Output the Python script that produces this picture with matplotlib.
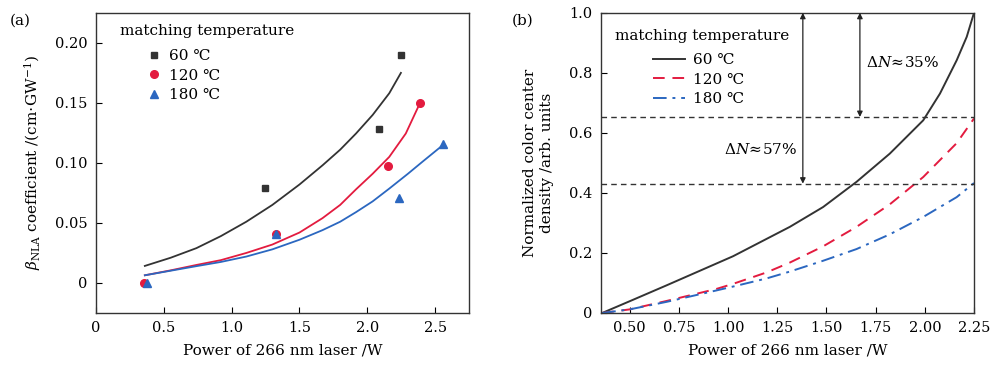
import matplotlib
matplotlib.use("Agg")
import matplotlib.pyplot as plt

plt.rcParams['font.family'] = ['DejaVu Serif']
plt.rcParams['mathtext.fontset'] = 'dejavuserif'

# ---------------- data (a) ----------------
temps = ["60 ℃", "120 ℃", "180 ℃"]
a_x60 = [1.243, 2.083, 2.248]
a_y60 = [0.079, 0.128, 0.190]
a_x120 = [0.353, 1.328, 2.154, 2.387]
a_y120 = [0.0, 0.0406, 0.0976, 0.1495]
a_x180 = [0.377, 1.33, 2.235, 2.559]
a_y180 = [0.0, 0.041, 0.071, 0.1155]

fit60_x = [0.36, 0.55, 0.74, 0.92, 1.108, 1.30, 1.50, 1.67, 1.80, 1.917, 2.04, 2.162, 2.248]
fit60_y = [0.0142, 0.021, 0.029, 0.039, 0.051, 0.065, 0.082, 0.098, 0.111, 0.1245, 0.140, 0.158, 0.175]
fit120_x = [0.36, 0.55, 0.74, 0.92, 1.108, 1.30, 1.50, 1.67, 1.80, 1.917, 2.04, 2.162, 2.284, 2.387]
fit120_y = [0.0064, 0.0105, 0.015, 0.019, 0.025, 0.032, 0.042, 0.054, 0.065, 0.078, 0.091, 0.105, 0.1245, 0.1495]
fit180_x = [0.36, 0.55, 0.74, 0.92, 1.108, 1.30, 1.50, 1.67, 1.80, 1.917, 2.04, 2.162, 2.30, 2.407, 2.559]
fit180_y = [0.0064, 0.0102, 0.014, 0.0175, 0.022, 0.028, 0.036, 0.044, 0.051, 0.059, 0.068, 0.0786, 0.091, 0.101, 0.115]

a_xticks = [0, 0.5, 1.0, 1.5, 2.0, 2.5]
a_xticklabels = ["0", "0.5", "1.0", "1.5", "2.0", "2.5"]
a_yticks = [0, 0.05, 0.10, 0.15, 0.20]
a_yticklabels = ["0", "0.05", "0.10", "0.15", "0.20"]

# ---------------- data (b) ----------------
b_x60 = [0.36, 0.517, 0.687, 1.025, 1.314, 1.483, 1.653, 1.822, 1.992, 2.077, 2.162, 2.213, 2.25]
b_y60 = [0.0, 0.044, 0.092, 0.189, 0.287, 0.353, 0.437, 0.531, 0.642, 0.731, 0.842, 0.92, 1.0]
b_x120 = [0.36, 0.5, 0.687, 0.94, 1.025, 1.195, 1.314, 1.483, 1.653, 1.822, 1.992, 2.162, 2.25]
b_y120 = [0.0, 0.012, 0.040, 0.080, 0.097, 0.135, 0.168, 0.222, 0.287, 0.362, 0.453, 0.566, 0.648]
b_x180 = [0.36, 0.5, 0.687, 0.94, 1.025, 1.195, 1.314, 1.483, 1.653, 1.822, 1.992, 2.162, 2.25]
b_y180 = [0.0, 0.012, 0.037, 0.075, 0.088, 0.115, 0.138, 0.174, 0.213, 0.262, 0.320, 0.386, 0.433]

ref_levels = [0.653, 0.431]
arrow_x = [1.38, 1.67]
dn_labels = [r"$\Delta N\!\approx\!$57%", r"$\Delta N\!\approx\!$35%"]

b_xticks = [0.5, 0.75, 1.0, 1.25, 1.5, 1.75, 2.0, 2.25]
b_xticklabels = ["0.50", "0.75", "1.00", "1.25", "1.50", "1.75", "2.00", "2.25"]
b_yticks = [0, 0.2, 0.4, 0.6, 0.8, 1.0]
b_yticklabels = ["0", "0.2", "0.4", "0.6", "0.8", "1.0"]

C_BLACK = '#333333'
C_RED = '#e31b3f'
C_BLUE = '#2b67c0'

fig = plt.figure(figsize=(10, 3.78), dpi=100)
ax1 = fig.add_axes([0.096, 0.172, 0.373, 0.794])
ax2 = fig.add_axes([0.601, 0.172, 0.373, 0.794])

FS = 10.5
LFS = 11
for ax in (ax1, ax2):
    ax.tick_params(direction='in', length=4, width=0.8, labelsize=FS, top=False, right=False, pad=6)
    for s in ax.spines.values():
        s.set_linewidth(1.0)
        s.set_color('#333333')

# ---- panel a ----
ax1.plot(fit60_x, fit60_y, color=C_BLACK, lw=1.3)
ax1.plot(fit120_x, fit120_y, color=C_RED, lw=1.3)
ax1.plot(fit180_x, fit180_y, color=C_BLUE, lw=1.3)
h1, = ax1.plot(a_x60, a_y60, 's', color=C_BLACK, ms=5, ls='none', label=temps[0])
h2, = ax1.plot(a_x120, a_y120, 'o', color=C_RED, ms=5.5, ls='none', label=temps[1])
h3, = ax1.plot(a_x180, a_y180, '^', color=C_BLUE, ms=6, ls='none', label=temps[2])
ax1.set_xlim(0, 2.75)
ax1.set_ylim(-0.025, 0.225)
ax1.set_xticks(a_xticks)
ax1.set_xticklabels(a_xticklabels)
ax1.set_yticks(a_yticks)
ax1.set_yticklabels(a_yticklabels)
ax1.set_xlabel("Power of 266 nm laser /W", fontsize=LFS, labelpad=6)
ax1.set_ylabel(r"$\beta_{\rm NLA}$ coefficient /(cm$\cdot$GW$^{-1}$)", fontsize=LFS, labelpad=9)
ax1.text(0.064, 0.94, "matching temperature", transform=ax1.transAxes, fontsize=LFS,
         ha='left', va='center')
ax1.legend(handles=[h1, h2, h3], loc='upper left', frameon=False, fontsize=LFS,
           handlelength=1.0, handletextpad=0.5, labelspacing=0.35, borderaxespad=0,
           borderpad=0, bbox_to_anchor=(0.134, 0.878))
fig.text(0.010, 0.935, "(a)", fontsize=LFS)

# ---- panel b ----
ax2.plot(b_x60, b_y60, color=C_BLACK, lw=1.4, label=temps[0])
ax2.plot(b_x120, b_y120, color=C_RED, lw=1.4, ls=(0, (6, 4)), label=temps[1])
ax2.plot(b_x180, b_y180, color=C_BLUE, lw=1.4, ls=(0, (7, 3, 1.5, 3)), label=temps[2])
for lv in ref_levels:
    ax2.axhline(lv, color='#333333', lw=1.0, ls=(0, (4, 3)))
ax2.annotate("", xy=(arrow_x[0], 1.0), xytext=(arrow_x[0], ref_levels[1]),
             arrowprops=dict(arrowstyle='<|-|>', color='#222222', lw=0.9,
                             mutation_scale=8, shrinkA=0, shrinkB=0))
ax2.annotate("", xy=(arrow_x[1], 1.0), xytext=(arrow_x[1], ref_levels[0]),
             arrowprops=dict(arrowstyle='<|-|>', color='#222222', lw=0.9,
                             mutation_scale=8, shrinkA=0, shrinkB=0))
ax2.text(arrow_x[0] - 0.03, 0.545, dn_labels[0], ha='right', va='center', fontsize=LFS)
ax2.text(arrow_x[1] + 0.03, 0.835, dn_labels[1], ha='left', va='center', fontsize=LFS)
ax2.set_xlim(0.354, 2.25)
ax2.set_ylim(0, 1.0)
ax2.set_xticks(b_xticks)
ax2.set_xticklabels(b_xticklabels)
ax2.set_yticks(b_yticks)
ax2.set_yticklabels(b_yticklabels)
ax2.set_xlabel("Power of 266 nm laser /W", fontsize=LFS, labelpad=6)
ax2.set_ylabel("Normalized color center\ndensity /arb. units", fontsize=LFS, labelpad=11,
               linespacing=1.3)
ax2.text(0.038, 0.923, "matching temperature", transform=ax2.transAxes, fontsize=LFS,
         ha='left', va='center')
ax2.legend(loc='upper left', frameon=False, fontsize=LFS, handlelength=2.1,
           handletextpad=0.5, labelspacing=0.35, borderaxespad=0, borderpad=0,
           bbox_to_anchor=(0.139, 0.865))
fig.text(0.512, 0.935, "(b)", fontsize=LFS)

fig.savefig("out.png", dpi=100)
